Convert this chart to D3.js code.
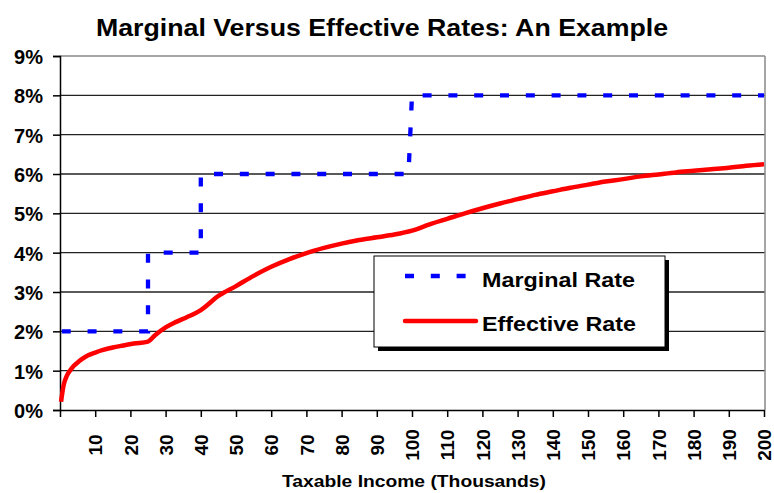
<!DOCTYPE html>
<html>
<head>
<meta charset="utf-8">
<script src="https://cdn.jsdelivr.net/npm/d3@7/dist/d3.min.js"></script>
<style>
  html, body { margin: 0; padding: 0; background: #fff; }
  svg text { font-family: Arial, "Liberation Sans", sans-serif; font-weight: bold; fill: #000; }
</style>
</head>
<body>
<div id="chart"></div>
<script>
// ---- Data ----
const xTickValues = [10,20,30,40,50,60,70,80,90,100,110,120,130,140,150,160,170,180,190,200];
const yTickValues = [0,1,2,3,4,5,6,7,8,9];

// Marginal rate (step function) — income (thousands) and rate (%)
const marginalIncome = [0.5, 25, 25, 40, 40, 99, 100, 200];
const marginalRate   = [2, 2, 4, 4, 6, 6, 8, 8];

// Effective rate — income (thousands) and rate (%)
const effectiveIncome = [0.3,1,2,3,4,5,6,8,10,12,15,18,21,25,27,30,33,36,40,45,50,55,60,65,70,75,80,85,90,95,100,105,110,115,120,125,130,135,140,145,150,155,160,165,170,175,180,185,190,195,200];
const effectiveRate   = [0.21,0.62,0.88,1.02,1.13,1.21,1.28,1.39,1.46,1.52,1.59,1.64,1.69,1.74,1.90,2.10,2.24,2.36,2.54,2.90,3.15,3.41,3.64,3.83,3.99,4.12,4.23,4.32,4.39,4.46,4.56,4.72,4.86,5.00,5.13,5.25,5.36,5.47,5.56,5.65,5.73,5.81,5.87,5.94,5.99,6.04,6.08,6.12,6.16,6.21,6.25];

const seriesNames = ["Marginal Rate", "Effective Rate"];
const titleText = "Marginal Versus Effective Rates: An Example";
const xTitle = "Taxable Income (Thousands)";

(function () {
// ---- Layout ----
const W = 774, H = 493;
const pLeft = 60, pRight = 764, pTop = 56, pBottom = 410;

const svg = d3.select("#chart").append("svg").attr("width", W).attr("height", H);

const x = d3.scaleLinear().domain([0, 200]).range([pLeft, pRight]);
const y = d3.scaleLinear().domain([0, 9]).range([pBottom, pTop]);

// Title
svg.append("text")
  .attr("x", 96).attr("y", 36)
  .attr("font-size", 24)
  .attr("textLength", 572).attr("lengthAdjust", "spacingAndGlyphs")
  .text(titleText);

// Gridlines
svg.append("g").selectAll("line")
  .data(yTickValues.filter(d => d > 0 && d < 9))
  .join("line")
  .attr("x1", pLeft).attr("x2", pRight + 1)
  .attr("y1", d => y(d)).attr("y2", d => y(d))
  .attr("stroke", "#222").attr("stroke-width", 1.3);

// Plot border (top & right)
svg.append("line").attr("x1", pLeft).attr("x2", pRight + 1).attr("y1", y(9)).attr("y2", y(9))
  .attr("stroke", "#888").attr("stroke-width", 1.5);
svg.append("line").attr("x1", pRight + 1).attr("x2", pRight + 1).attr("y1", y(9)).attr("y2", pBottom)
  .attr("stroke", "#888").attr("stroke-width", 1.5);

// Y axis
const yAxis = d3.axisLeft(y).tickValues(yTickValues).tickFormat(d => d + "%").tickSize(7).tickPadding(10);
const gy = svg.append("g").attr("transform", `translate(${pLeft},0)`).call(yAxis);
gy.select(".domain").attr("stroke", "#000").attr("stroke-width", 1.5);
gy.selectAll(".tick line").attr("stroke", "#000").attr("stroke-width", 1.5);
gy.selectAll(".tick text")
  .attr("font-size", 20).attr("font-family", "Arial, 'Liberation Sans', sans-serif")
  .attr("font-weight", "bold").attr("fill", "#000").attr("dy", "0.38em");

// X axis
const xAxis = d3.axisBottom(x).tickValues([0].concat(xTickValues)).tickFormat(d => d === 0 ? "" : d).tickSize(7).tickSizeOuter(0);
const gx = svg.append("g").attr("transform", `translate(0,${pBottom})`).call(xAxis);
gx.select(".domain").attr("stroke", "#000").attr("stroke-width", 1.5);
gx.selectAll(".tick line").attr("stroke", "#000").attr("stroke-width", 1.5);
gx.selectAll(".tick text")
  .attr("font-size", 19).attr("font-family", "Arial, 'Liberation Sans', sans-serif")
  .attr("font-weight", "bold").attr("fill", "#000")
  .attr("text-anchor", "middle")
  .attr("transform", "translate(0,35) rotate(-90)")
  .attr("x", 0).attr("y", 0).attr("dy", "0.35em");

// X title
svg.append("text")
  .attr("x", 282).attr("y", 487)
  .attr("font-size", 17)
  .attr("textLength", 264).attr("lengthAdjust", "spacingAndGlyphs")
  .text(xTitle);

// Lines
const marginalData = marginalIncome.map((d, i) => [d, marginalRate[i]]);
const effectiveData = effectiveIncome.map((d, i) => [d, effectiveRate[i]]);

svg.append("path")
  .datum(effectiveData)
  .attr("fill", "none").attr("stroke", "#ff0000").attr("stroke-width", 4.5)
  .attr("stroke-linejoin", "round")
  .attr("d", d3.line().x(d => x(d[0])).y(d => y(d[1])).curve(d3.curveMonotoneX));

svg.append("path")
  .datum(marginalData)
  .attr("fill", "none").attr("stroke", "#0000ff").attr("stroke-width", 4.3)
  .attr("stroke-dasharray", "9,16.8")
  .attr("d", d3.line().x(d => x(d[0])).y(d => y(d[1])));

// Legend
const lg = svg.append("g");
lg.append("rect").attr("x", 378).attr("y", 260).attr("width", 291).attr("height", 91).attr("fill", "#000");
lg.append("rect").attr("x", 374).attr("y", 256).attr("width", 291).attr("height", 91)
  .attr("fill", "#fff").attr("stroke", "#000").attr("stroke-width", 1);
lg.append("line").attr("x1", 405).attr("x2", 476).attr("y1", 276).attr("y2", 276)
  .attr("stroke", "#0000ff").attr("stroke-width", 4.3).attr("stroke-dasharray", "9,16.8");
lg.append("line").attr("x1", 405).attr("x2", 476).attr("y1", 321).attr("y2", 321)
  .attr("stroke", "#ff0000").attr("stroke-width", 4.5).attr("stroke-linecap", "round");
lg.append("text").attr("x", 482).attr("y", 287).attr("font-size", 21)
  .attr("textLength", 153).attr("lengthAdjust", "spacingAndGlyphs").text(seriesNames[0]);
lg.append("text").attr("x", 482).attr("y", 331).attr("font-size", 21)
  .attr("textLength", 154).attr("lengthAdjust", "spacingAndGlyphs").text(seriesNames[1]);
})();
</script>
</body>
</html>
